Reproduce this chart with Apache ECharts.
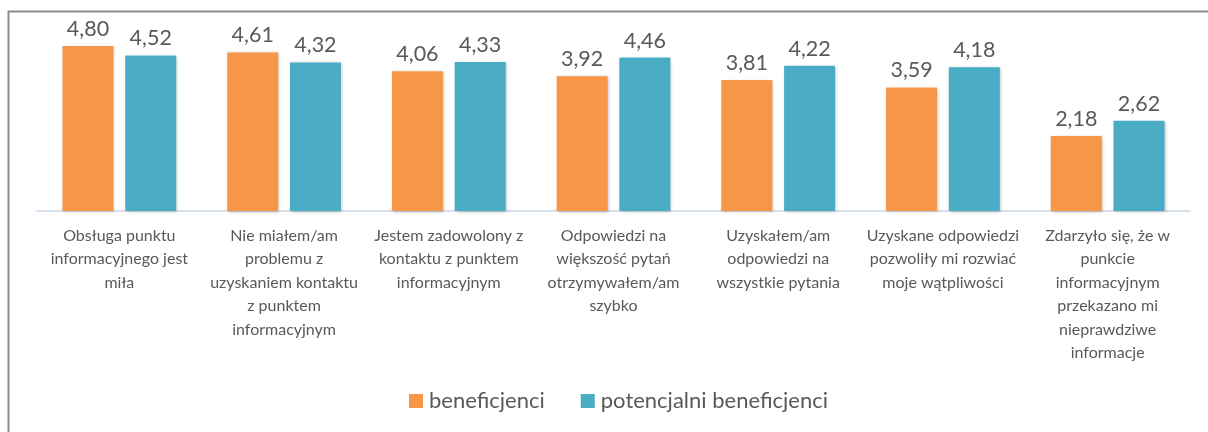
<!DOCTYPE html>
<html><head><meta charset="utf-8">
<script src="https://cdn.jsdelivr.net/npm/echarts@6/dist/echarts.min.js"></script>
<style>html,body{margin:0;padding:0;background:#fff}#c{width:1208px;height:432px}</style>
</head><body><div id="c"></div>
<script>
const categories = [
  "Obsługa punktu\ninformacyjnego jest\nmiła",
  "Nie miałem/am\nproblemu z\nuzyskaniem kontaktu\nz punktem\ninformacyjnym",
  "Jestem zadowolony z\nkontaktu z punktem\ninformacyjnym",
  "Odpowiedzi na\nwiększość pytań\notrzymywałem/am\nszybko",
  "Uzyskałem/am\nodpowiedzi na\nwszystkie pytania",
  "Uzyskane odpowiedzi\npozwoliły mi rozwiać\nmoje wątpliwości",
  "Zdarzyło się, że w\npunkcie\ninformacyjnym\nprzekazano mi\nnieprawdziwe\ninformacje"
];
const seriesNames = ["beneficjenci", "potencjalni beneficjenci"];
const beneficjenci = [4.80, 4.61, 4.06, 3.92, 3.81, 3.59, 2.18];
const potencjalni = [4.52, 4.32, 4.33, 4.46, 4.22, 4.18, 2.62];

const FONT = "Lato";
const TXT = "#595959";
const chart = echarts.init(document.getElementById('c'), null, {renderer: 'canvas'});
const lbl = {
  show: true, position: 'top', distance: 6, color: TXT, fontFamily: FONT, fontSize: 21.5,
  formatter: p => p.value.toFixed(2).replace('.', ',')
};
const shadow = {shadowColor: 'rgba(0,0,0,0.25)', shadowBlur: 3, shadowOffsetX: 1, shadowOffsetY: 1};
chart.setOption({
  animation: false,
  backgroundColor: '#fff',
  graphic: [{type: 'rect', left: 6, top: 9, shape: {width: 1240, height: 460},
    style: {fill: 'none', stroke: '#8c8c8c', lineWidth: 2}, silent: true}],
  grid: {left: 37, right: 18, top: 39, bottom: 221, containLabel: false},
  legend: {
    data: seriesNames, top: 385, left: 404, itemWidth: 14, itemHeight: 14, itemGap: 36,
    icon: 'rect', textStyle: {color: TXT, fontFamily: FONT, fontSize: 22, padding: [0, 0, 0, 1]}
  },
  xAxis: {
    type: 'category', data: categories,
    axisLine: {lineStyle: {color: '#c9d7e8', width: 1.5}},
    axisTick: {show: false},
    axisLabel: {color: TXT, fontFamily: FONT, fontSize: 16, lineHeight: 23.5, margin: 13, interval: 0}
  },
  yAxis: {type: 'value', min: 0, max: 5, show: false, splitLine: {show: false}},
  series: [
    {name: seriesNames[0], type: 'bar', data: beneficjenci, barWidth: 51, barGap: '23%',
      itemStyle: Object.assign({color: '#F79646'}, shadow), label: lbl},
    {name: seriesNames[1], type: 'bar', data: potencjalni, barWidth: 51,
      itemStyle: Object.assign({color: '#4BACC6'}, shadow), label: lbl}
  ]
});
</script></body></html>
